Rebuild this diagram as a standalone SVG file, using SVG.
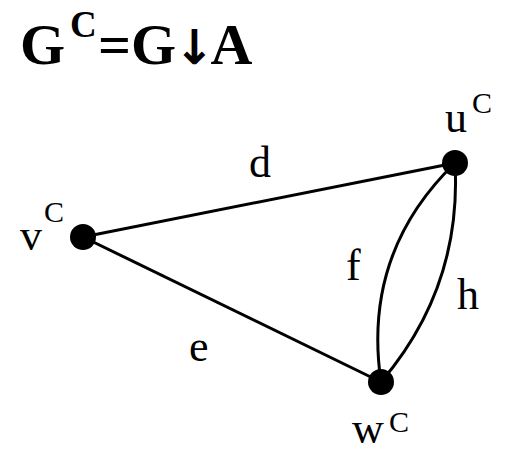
<svg xmlns="http://www.w3.org/2000/svg" width="523" height="455" viewBox="0 0 523 455">
<style>
.lbl{font-family:"Liberation Serif",serif;font-size:44px;fill:#000}
.sup{font-family:"Liberation Serif",serif;font-size:30px;fill:#000}
.ttl{font-family:"Liberation Serif",serif;font-weight:bold;fill:#000}
.edge{fill:none;stroke:#000;stroke-width:3}
.node{fill:#000}
</style>
<rect width="523" height="455" fill="#fff"/>
<text class="ttl" x="20" y="64" font-size="58">G<tspan x="70" y="37" font-size="37">C</tspan><tspan x="98" y="64" font-size="58">=G</tspan><tspan font-family="DejaVu Sans, sans-serif" font-size="48" dx="-2" y="64">↓</tspan><tspan y="64" dx="-4" font-size="58">A</tspan></text>
<g id="connectors">
<line class="edge" x1="83" y1="237" x2="455" y2="163"/>
<line class="edge" x1="83" y1="237" x2="381" y2="382"/>
<path class="edge" d="M455,163 Q362,253 381,382"/>
<path class="edge" d="M455,163 Q462,287 381,382"/>
<text class="lbl" x="249" y="177">d</text>
<text class="lbl" x="189" y="361">e</text>
<text class="lbl" x="346" y="280">f</text>
<text class="lbl" x="457" y="309">h</text>
</g>
<g id="v"><circle class="node" cx="83" cy="237" r="13"/><text class="lbl" x="20" y="250">v</text><text class="sup" x="44" y="222">C</text></g>
<g id="u"><circle class="node" cx="455" cy="163" r="13"/><text class="lbl" x="445" y="132">u</text><text class="sup" x="472" y="113">C</text></g>
<g id="w"><circle class="node" cx="381" cy="382" r="13"/><text class="lbl" x="352" y="443">w</text><text class="sup" x="389" y="432">C</text></g>
</svg>
